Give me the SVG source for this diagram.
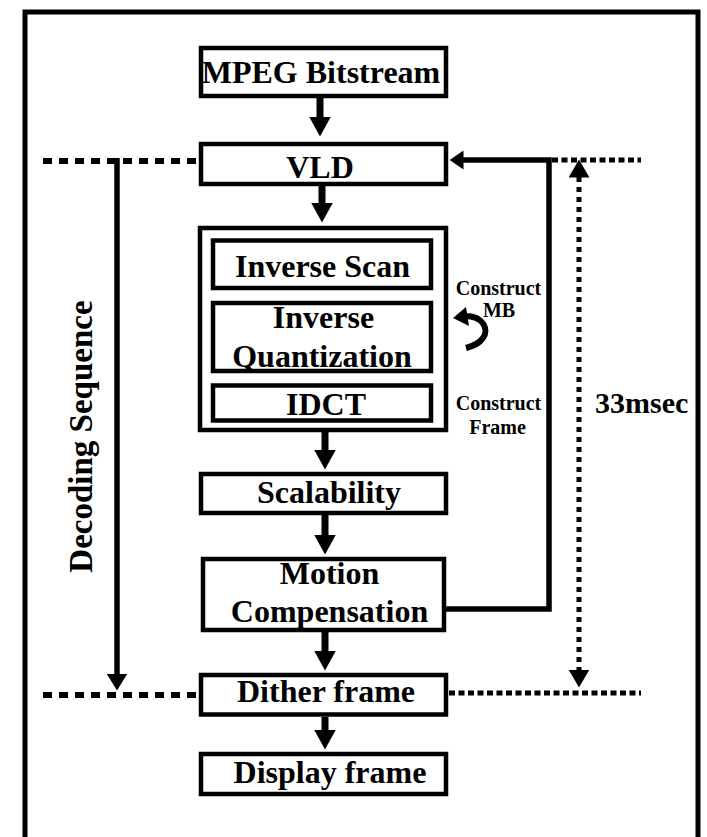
<svg xmlns="http://www.w3.org/2000/svg" width="707" height="837" viewBox="0 0 707 837">
<style>
.box{fill:#fff;stroke:#000;stroke-width:4.5}
.t{font-family:"Liberation Serif","Times New Roman",serif;font-weight:bold;fill:#000;text-anchor:middle;font-size:32px}
.s{font-size:20px}
.flow{stroke:#000;stroke-width:7;fill:none}
.fb{stroke:#000;stroke-width:5.5;fill:none}
.dl{stroke:#000;stroke-width:6;stroke-dasharray:9 7;fill:none}
.dr{stroke:#000;stroke-width:5;stroke-dasharray:6 3.5;fill:none}
.dv{stroke:#000;stroke-width:5;stroke-dasharray:5 5;fill:none}
</style>
<defs>
<marker id="ah" markerUnits="userSpaceOnUse" viewBox="0 0 20 22" markerWidth="20" markerHeight="22" refX="0.5" refY="11" orient="auto"><path d="M0,0 L20,11 L0,22 z" fill="#000"/></marker>
<marker id="ahs" markerUnits="userSpaceOnUse" viewBox="0 0 14 19" markerWidth="14" markerHeight="19" refX="0.5" refY="9.5" orient="auto"><path d="M0,0 L14,9.5 L0,19 z" fill="#000"/></marker>
<marker id="ahl" markerUnits="userSpaceOnUse" viewBox="0 0 17 21" markerWidth="17" markerHeight="21" refX="0.5" refY="10.5" orient="auto"><path d="M0,0 L17,10.5 L0,21 z" fill="#000"/></marker>
<marker id="ahd" markerUnits="userSpaceOnUse" viewBox="0 0 18 21" markerWidth="18" markerHeight="21" refX="0.5" refY="10.5" orient="auto-start-reverse"><path d="M0,0 L18,10.5 L0,21 z" fill="#000"/></marker>
</defs>
<rect width="707" height="837" fill="#fff"/>
<rect id="frame" x="25" y="12" width="673" height="845" fill="none" stroke="#000" stroke-width="5"/>

<g id="connectors">
<line class="dl" x1="43" y1="161" x2="199" y2="161"/>
<line class="dl" x1="43" y1="695" x2="199" y2="695"/>
<line class="dr" x1="552" y1="160" x2="641" y2="160"/>
<line class="dr" x1="449" y1="693" x2="641" y2="693"/>
<line class="fb" x1="117" y1="158" x2="117" y2="674" marker-end="url(#ahl)"/>
<line class="dv" x1="579" y1="177" x2="579" y2="670" marker-start="url(#ahd)" marker-end="url(#ahd)"/>
<polyline class="fb" points="446,609 549,609 549,160 463,160" marker-end="url(#ahs)"/>
<line class="flow" x1="320" y1="98" x2="320" y2="117" marker-end="url(#ah)"/>
<line class="flow" x1="322" y1="186" x2="322" y2="203" marker-end="url(#ah)"/>
<line class="flow" x1="325" y1="432" x2="325" y2="450" marker-end="url(#ah)"/>
<line class="flow" x1="325" y1="515" x2="325" y2="535" marker-end="url(#ah)"/>
<line class="flow" x1="325" y1="632" x2="325" y2="651" marker-end="url(#ah)"/>
<line class="flow" x1="325" y1="717" x2="325" y2="730" marker-end="url(#ah)"/>
<path d="M465,316 C484,316 489,330 483,338 C479,344 473,346 466,348" stroke="#000" stroke-width="6" fill="none"/>
<polygon points="453,318 466,307 469,326" fill="#000"/>
</g>

<g id="mpeg"><rect class="box" x="201" y="48" width="245" height="48"/><text class="t" x="321" y="83">MPEG Bitstream</text></g>
<g id="vld"><rect class="box" x="201" y="144" width="245" height="40"/><text class="t" x="320" y="178">VLD</text></g>
<g id="block"><rect class="box" x="200" y="228" width="246" height="202"/>
<g id="iscan"><rect class="box" x="213" y="240.5" width="218" height="47.5"/><text class="t" x="322.5" y="277">Inverse Scan</text></g>
<g id="iquant"><rect class="box" x="213" y="303" width="218" height="68"/><text class="t" x="323.5" y="328">Inverse</text><text class="t" x="322" y="367">Quantization</text></g>
<g id="idct"><rect class="box" x="213" y="385.5" width="218" height="35"/><text class="t" x="326" y="415">IDCT</text></g>
</g>
<g id="constructmb"><text class="t s" x="498.5" y="295">Construct</text><text class="t s" x="499" y="317">MB</text></g>
<g id="constructframe"><text class="t s" x="498.5" y="410">Construct</text><text class="t s" x="497.5" y="434">Frame</text></g>
<g id="scal"><rect class="box" x="201" y="474" width="245" height="39"/><text class="t" x="329" y="503">Scalability</text></g>
<g id="mc"><rect class="box" x="203" y="559" width="241" height="71"/><text class="t" x="329.5" y="584">Motion</text><text class="t" x="329.5" y="622">Compensation</text></g>
<g id="dither"><rect class="box" x="201" y="675" width="245" height="39.5"/><text class="t" x="326" y="702">Dither frame</text></g>
<g id="display"><rect class="box" x="201" y="754" width="245" height="40"/><text class="t" x="330" y="783">Display frame</text></g>
<g id="time"><text class="t" x="595" y="413" style="text-anchor:start;font-size:30px">33msec</text></g>
<g id="seq"><text class="t" transform="translate(91.5,436.5) rotate(-90)" style="font-size:33px">Decoding Sequence</text></g>
</svg>
